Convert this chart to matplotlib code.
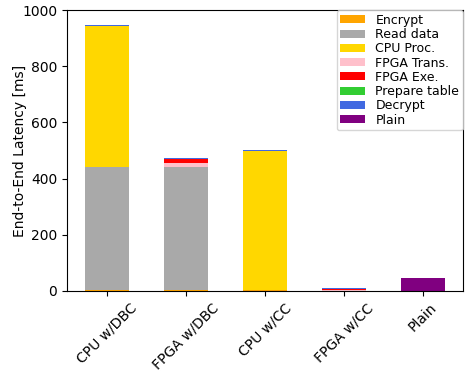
import matplotlib
matplotlib.use("Agg")
import matplotlib.pyplot as plt
import numpy as np

configs = ["CPU w/DBC", "FPGA w/DBC", "CPU w/CC", "FPGA w/CC", "Plain"]

# latency breakdown per configuration [ms]
encrypt = [2, 2, 2, 1, 0]
read_data = [440, 440, 0, 0, 0]
cpu_proc = [501, 0, 495, 0, 0]
fpga_trans = [0, 14, 0, 1, 0]
fpga_exe = [0, 12, 0, 4, 0]
prepare_table = [0, 0, 0, 0, 0]
decrypt = [3, 4, 3, 4, 0]
plain = [0, 0, 0, 0, 47]

stages = [
    ("Encrypt", encrypt, "orange"),
    ("Read data", read_data, "darkgray"),
    ("CPU Proc.", cpu_proc, "gold"),
    ("FPGA Trans.", fpga_trans, "pink"),
    ("FPGA Exe.", fpga_exe, "red"),
    ("Prepare table", prepare_table, "limegreen"),
    ("Decrypt", decrypt, "royalblue"),
    ("Plain", plain, "purple"),
]

fig = plt.figure(figsize=(4.71, 3.71), dpi=100)
ax = fig.add_axes([0.142, 0.216, 0.841, 0.757])

x = np.arange(len(configs))
bottom = np.zeros(len(configs))
for label, vals, colour in stages:
    vals = np.array(vals, dtype=float)
    ax.bar(x, vals, width=0.56, bottom=bottom, color=colour, label=label)
    bottom += vals

ax.set_ylim(0, 1000)
ax.set_xticks(x)
ax.set_xticklabels(configs, rotation=45, fontsize=10)
ax.tick_params(axis="y", labelsize=10)
ax.set_ylabel("End-to-End Latency [ms]", fontsize=10)
ax.yaxis.set_label_coords(-0.1, 0.5)

ax.legend(loc="upper right", bbox_to_anchor=(1.0, 1.0), borderaxespad=0,
          fontsize=9, labelspacing=0.1, handlelength=2.0, handleheight=0.6,
          borderpad=0.3)

fig.savefig("out.png", dpi=100)
